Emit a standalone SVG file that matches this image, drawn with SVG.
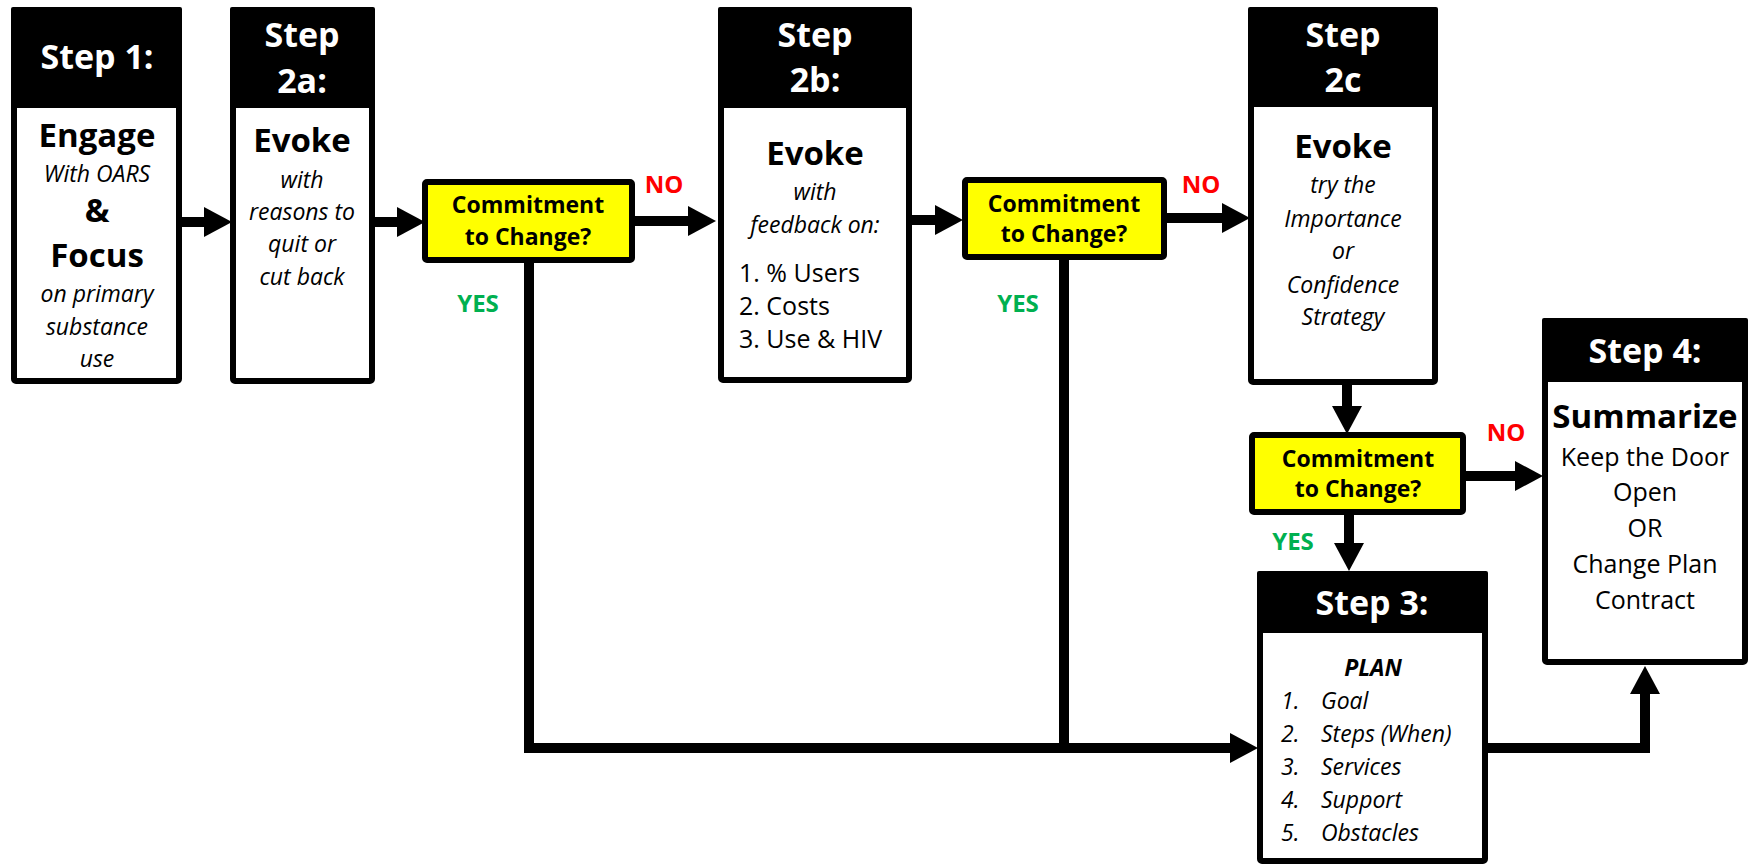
<svg xmlns="http://www.w3.org/2000/svg" width="1750" height="864" viewBox="0 0 1750 864">
<style>
text{font-family:"Open Sans","Liberation Sans",sans-serif;text-anchor:middle;fill:#000}
.box{fill:#fff;stroke:#000;stroke-width:6}
.hdr{fill:#000}
.dec{fill:#ffff00;stroke:#000;stroke-width:6}
.ht{font-size:34px;font-weight:bold;fill:#fff}
.big{font-size:33px;font-weight:bold}
.it{font-size:23px;font-style:italic}
.reg{font-size:25px}
.dt{font-size:23px;font-weight:bold}
.no{font-size:24px;font-weight:bold;fill:#ff0000}
.yes{font-size:24px;font-weight:bold;fill:#00b050}
.lst{text-anchor:start}
.conn{fill:none;stroke:#000;stroke-width:10}
</style>
<defs>
<marker id="ah" markerUnits="userSpaceOnUse" markerWidth="30" markerHeight="32" refX="0" refY="15" orient="auto" overflow="visible">
<path d="M0,0 L28,15 L0,30 Z" fill="#000"/>
</marker>
</defs>

<g id="connectors">
<path class="conn" d="M182,222 H204" marker-end="url(#ah)"/>
<path class="conn" d="M375,222 H397" marker-end="url(#ah)"/>
<path class="conn" d="M635,221 H688" marker-end="url(#ah)"/>
<path class="conn" d="M912,220 H935" marker-end="url(#ah)"/>
<path class="conn" d="M1167,218 H1222" marker-end="url(#ah)"/>
<path class="conn" d="M1347,385 V406" marker-end="url(#ah)"/>
<path class="conn" d="M1466,476 H1515" marker-end="url(#ah)"/>
<path class="conn" d="M1349,515 V543" marker-end="url(#ah)"/>
<path class="conn" d="M529,262 V748 H1230" marker-end="url(#ah)"/>
<path class="conn" d="M1064,259 V748"/>
<path class="conn" d="M1488,748 H1645 V694" marker-end="url(#ah)"/>
</g>

<g id="step1">
<rect class="box" x="14" y="10" width="165" height="371" rx="2"/>
<rect class="hdr" x="11" y="7" width="171" height="101" rx="2"/>
<text class="ht" x="97" y="69">Step 1:</text>
<text class="big" x="97" y="147">Engage</text>
<text class="it" x="97" y="182">With OARS</text>
<text class="big" x="97" y="222">&amp;</text>
<text class="big" x="97" y="267">Focus</text>
<text class="it" x="97" y="302">on primary</text>
<text class="it" x="97" y="335">substance</text>
<text class="it" x="97" y="367">use</text>
</g>

<g id="step2a">
<rect class="box" x="233" y="10" width="139" height="371" rx="2"/>
<rect class="hdr" x="230" y="7" width="145" height="101" rx="2"/>
<text class="ht" x="302" y="47">Step</text>
<text class="ht" x="302" y="93">2a:</text>
<text class="big" x="302" y="152">Evoke</text>
<text class="it" x="302" y="188">with</text>
<text class="it" x="302" y="220">reasons to</text>
<text class="it" x="302" y="252">quit or</text>
<text class="it" x="302" y="285">cut back</text>
</g>

<g id="decision1">
<rect class="dec" x="425" y="182" width="207" height="78" rx="2"/>
<text class="dt" x="528" y="213">Commitment</text>
<text class="dt" x="528" y="245">to Change?</text>
</g>
<text class="no" x="664" y="193">NO</text>
<text class="yes" x="478" y="312">YES</text>

<g id="step2b">
<rect class="box" x="721" y="10" width="188" height="370" rx="2"/>
<rect class="hdr" x="718" y="7" width="194" height="101" rx="2"/>
<text class="ht" x="815" y="47">Step</text>
<text class="ht" x="815" y="92">2b:</text>
<text class="big" x="815" y="165">Evoke</text>
<text class="it" x="815" y="200">with</text>
<text class="it" x="815" y="233">feedback on:</text>
<text class="reg lst" x="739" y="282">1. % Users</text>
<text class="reg lst" x="739" y="315">2. Costs</text>
<text class="reg lst" x="739" y="348">3. Use &amp; HIV</text>
</g>

<g id="decision2">
<rect class="dec" x="965" y="180" width="199" height="77" rx="2"/>
<text class="dt" x="1064" y="212">Commitment</text>
<text class="dt" x="1064" y="242">to Change?</text>
</g>
<text class="no" x="1201" y="193">NO</text>
<text class="yes" x="1018" y="312">YES</text>

<g id="step2c">
<rect class="box" x="1251" y="10" width="184" height="372" rx="2"/>
<rect class="hdr" x="1248" y="7" width="190" height="100" rx="2"/>
<text class="ht" x="1343" y="47">Step</text>
<text class="ht" x="1343" y="92">2c</text>
<text class="big" x="1343" y="158">Evoke</text>
<text class="it" x="1343" y="193">try the</text>
<text class="it" x="1343" y="227">Importance</text>
<text class="it" x="1343" y="259">or</text>
<text class="it" x="1343" y="293">Confidence</text>
<text class="it" x="1343" y="325">Strategy</text>
</g>

<g id="decision3">
<rect class="dec" x="1252" y="435" width="211" height="77" rx="2"/>
<text class="dt" x="1358" y="467">Commitment</text>
<text class="dt" x="1358" y="497">to Change?</text>
</g>
<text class="no" x="1506" y="441">NO</text>
<text class="yes" x="1293" y="550">YES</text>

<g id="step4">
<rect class="box" x="1545" y="321" width="200" height="341" rx="2"/>
<rect class="hdr" x="1542" y="318" width="206" height="64" rx="2"/>
<text class="ht" x="1645" y="363">Step 4:</text>
<text class="big" x="1645" y="428">Summarize</text>
<text class="reg" x="1645" y="466" font-size="26">Keep the Door</text>
<text class="reg" x="1645" y="501" font-size="26">Open</text>
<text class="reg" x="1645" y="537" font-size="26">OR</text>
<text class="reg" x="1645" y="573" font-size="26">Change Plan</text>
<text class="reg" x="1645" y="609" font-size="26">Contract</text>
</g>

<g id="step3">
<rect class="box" x="1260" y="574" width="225" height="287" rx="2"/>
<rect class="hdr" x="1257" y="571" width="231" height="62" rx="2"/>
<text class="ht" x="1372" y="615">Step 3:</text>
<text class="it" x="1373" y="676" font-weight="bold" font-size="24">PLAN</text>
<text class="it lst" x="1281" y="709">1.</text>
<text class="it lst" x="1321" y="709">Goal</text>
<text class="it lst" x="1281" y="742">2.</text>
<text class="it lst" x="1321" y="742">Steps (When)</text>
<text class="it lst" x="1281" y="775">3.</text>
<text class="it lst" x="1321" y="775">Services</text>
<text class="it lst" x="1281" y="808">4.</text>
<text class="it lst" x="1321" y="808">Support</text>
<text class="it lst" x="1281" y="841">5.</text>
<text class="it lst" x="1321" y="841">Obstacles</text>
</g>
</svg>
